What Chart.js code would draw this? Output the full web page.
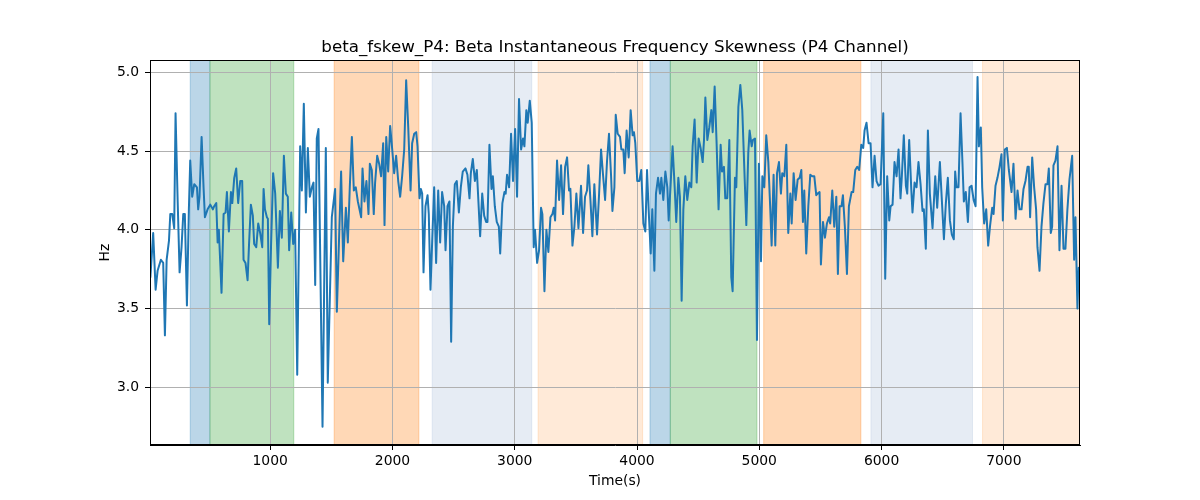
<!DOCTYPE html>
<html><head><meta charset="utf-8">
<script src="https://cdn.jsdelivr.net/npm/chart.js@4"></script>
<style>html,body{margin:0;padding:0;background:#fff}</style>
</head><body>
<canvas id="c" width="1200" height="500" style="width:1200px;height:500px"></canvas>
<script>
const chartTitle = 'beta_fskew_P4: Beta Instantaneous Frequency Skewness (P4 Channel)';
const xLabel = 'Time(s)';
const yLabel = 'Hz';
const xTicks = [1000, 2000, 3000, 4000, 5000, 6000, 7000];
const yTicks = [3.0, 3.5, 4.0, 4.5, 5.0];
const xRange = [17, 7623];
const yRange = [2.634, 5.078];

const times = [
20,43,63,79,106,125,139,153,172,183,199,215,226,243,259,275,289,302,319,335,346,362,379,401,411,422,439,455,466,488,510,531,542,559,570,580,602,619,635,646,662,679,690,706,722,738,755,771,782,798,815,826,842,858,869,886,902,918,935,946,957,973,
981,992,1007,1024,1041,1063,1079,1095,1112,1128,1144,1155,1172,1188,1204,1221,1245,1259,1275,1292,1308,1324,1341,1354,1368,1381,1395,1428,1455,1471,1504,1531,1545,1580,1597,1619,1635,1651,1668,1684,1700,1717,1744,1755,1771,1787,1804,1815,1831,1847,1858,1875,1891,1907,1924,1935,
1949,1965,1981,1998,2014,2030,2047,2063,2079,2096,2112,2129,2148,2161,2178,2194,2205,2221,2232,2243,2254,2270,2287,2297,2311,2325,2341,2357,2374,2390,2406,2423,2434,2450,2466,2480,2494,2510,2526,2543,2559,2575,2597,2613,2630,2641,2657,2674,2690,2701,2717,2734,2750,2766,2777,2793,2810,2821,2837,2853,2870,2881,
2899,2916,2926,2937,2954,2970,2986,3003,3019,3035,3052,3068,3079,3095,3106,3123,3139,3155,3166,3183,3199,3215,3226,3243,3259,3275,3292,3308,3319,3330,3346,3363,3379,3395,3412,3428,3444,3455,3472,3488,3504,3521,3542,3559,3575,3591,3602,3619,3635,3651,3673,3690,3706,3722,3739,3755,3771,3788,3799,3815,3826,3842,
3861,3872,3888,3899,3915,3932,3948,3964,3975,3986,4002,4019,4035,4052,4068,4082,4095,4112,4125,4142,4155,4172,4188,4199,4215,4232,4248,4259,4275,4291,4308,4321,4338,4351,4365,4379,4395,4411,4428,4444,4455,4471,4488,4504,4520,4537,4548,4559,4575,4591,4608,4619,4635,4651,4667,4684,4695,4711,4722,4738,4755,4771,4782,4801,
4812,4829,4845,4861,4878,4894,4910,4921,4938,4948,4965,4981,4997,5014,5025,5041,5057,5074,5090,5101,5117,5131,5145,5161,5177,5188,5205,5221,5237,5254,5265,5281,5297,5314,5330,5344,5357,5368,5384,5401,5417,5433,5450,5466,5477,5493,5504,5521,5537,5553,5570,5580,5597,5613,5630,5643,5657,5673,5684,5700,5717,5733,5755,
5768,5785,5801,5817,5834,5850,5861,5877,5894,5910,5926,5943,5959,5975,5992,6014,6030,6046,6063,6074,6090,6106,6123,6139,6155,6166,6182,6199,6210,6226,6243,6253,6270,6286,6302,6319,6335,6346,6362,6379,6395,6417,6439,6455,6477,6493,6510,6526,6542,6559,6575,6591,6602,6613,6629,6646,6662,6673,6689,6706,
6720,6736,6753,6769,6785,6796,6812,6823,6839,6856,6872,6888,6905,6916,6932,6948,6965,6981,6992,7008,7025,7041,7063,7079,7096,7112,7128,7145,7161,7177,7194,7204,7215,7232,7248,7264,7275,7292,7308,7324,7341,7357,7368,7384,7395,7406,7422,7439,7455,7472,7488,7504,7520,7537,7559,7575,7586,7602,7613,7621
];
const values = [
3.70,3.98,3.62,3.74,3.81,3.79,3.33,3.81,3.93,4.10,4.10,4.01,4.74,4.19,3.73,3.89,4.10,4.10,3.52,4.13,4.44,4.21,4.29,4.27,4.13,4.21,4.59,4.27,4.08,4.13,4.16,4.13,4.15,4.17,3.92,4.00,3.60,4.10,4.11,4.24,3.99,4.24,4.17,4.33,4.39,4.17,4.31,4.31,3.81,3.79,3.68,3.89,4.16,4.09,3.91,3.89,4.04,3.98,3.89,4.26,4.13,4.08,
4.07,3.40,3.90,4.36,4.23,3.76,4.12,3.95,4.47,4.23,4.21,3.87,4.11,3.91,4.00,3.08,4.53,4.25,4.80,4.11,4.52,4.21,4.27,4.30,3.65,4.58,4.64,2.75,4.52,3.03,4.08,4.26,3.48,4.37,3.80,4.14,3.92,4.27,4.59,4.25,4.27,4.18,4.08,4.39,4.18,4.31,4.10,4.42,4.38,4.10,4.30,4.47,4.42,4.34,4.55,4.03,
4.59,4.37,4.66,4.51,4.36,4.47,4.31,4.21,4.34,4.51,4.95,4.65,4.25,4.55,4.61,4.62,4.53,4.20,4.26,4.23,3.73,4.15,4.22,4.10,3.62,3.93,4.27,3.79,4.25,3.92,4.24,4.15,3.87,4.15,4.18,3.29,4.02,4.29,4.31,4.11,4.27,4.37,4.39,4.35,4.20,4.36,4.45,4.31,4.38,4.21,3.96,4.23,4.09,4.05,4.05,4.54,4.26,4.34,4.15,4.05,4.02,3.85,
4.17,4.24,4.23,4.35,4.27,4.61,4.31,4.64,4.21,4.83,4.51,4.58,4.53,4.76,4.68,4.82,4.68,3.89,4.00,3.79,3.87,4.14,4.10,3.61,4.00,3.86,4.08,4.10,4.14,4.06,4.44,4.19,4.41,4.10,4.40,4.46,4.25,4.26,3.90,4.02,4.23,4.01,4.28,3.98,4.21,4.25,4.41,4.19,3.96,4.29,3.97,4.23,4.51,4.35,4.19,4.44,4.61,4.34,4.12,4.27,4.73,4.61,
4.59,4.51,4.51,4.36,4.63,4.46,4.76,4.60,4.62,4.55,4.31,4.31,4.38,4.04,3.99,4.38,4.13,3.85,4.13,3.74,4.23,4.33,4.23,4.33,4.19,4.37,4.27,4.06,4.29,4.53,4.27,4.05,4.33,4.21,3.55,4.13,4.34,4.19,4.30,4.27,4.53,4.70,4.30,4.58,4.52,4.43,4.57,4.84,4.57,4.65,4.76,4.62,4.91,4.55,4.13,4.54,4.37,4.40,4.20,4.20,4.57,3.70,3.61,4.33,
4.27,4.78,4.92,4.76,4.38,4.03,4.49,4.63,4.53,4.57,4.58,3.30,4.42,3.80,4.34,4.27,4.60,4.43,4.13,3.90,4.35,3.90,4.36,4.43,4.23,4.36,4.34,4.54,3.98,4.23,4.04,4.36,4.19,4.32,4.33,4.38,4.05,4.25,3.85,4.15,4.35,4.34,4.34,4.22,4.23,4.24,3.78,4.05,3.95,4.04,4.08,4.04,4.25,4.02,4.21,3.72,4.15,4.15,4.22,4.02,3.72,4.15,4.24,
4.24,4.38,4.40,4.38,4.54,4.52,4.63,4.68,4.55,4.55,4.27,4.47,4.31,4.28,4.29,4.74,3.69,4.34,4.06,4.15,4.16,4.43,4.34,4.51,4.20,4.34,4.60,4.28,4.23,4.57,4.26,4.11,4.30,4.27,4.43,4.29,4.12,4.13,3.88,4.63,4.23,4.01,4.34,4.14,4.43,4.19,3.94,4.17,4.33,4.06,3.97,3.94,4.37,4.27,4.27,4.74,4.42,4.18,4.24,4.05,
4.27,4.28,4.19,4.15,4.97,4.53,4.65,4.27,4.04,4.13,3.90,4.03,4.14,4.10,4.28,4.33,4.40,4.48,4.06,4.51,4.52,4.38,4.24,4.42,4.07,4.25,4.13,4.13,4.26,4.31,4.40,4.40,4.08,4.46,4.27,4.13,3.89,3.74,4.02,4.17,4.29,4.29,4.39,3.98,4.02,4.41,4.44,4.53,3.87,4.28,3.88,3.88,4.13,4.32,4.47,3.81,4.08,3.50,3.76,3.76
];

const bandStarts = [346, 507, 1523, 2325, 3191, 4106, 4272, 5036, 5913, 6826];
const bandEnds   = [507, 1193, 2216, 3139, 4046, 4272, 4981, 5831, 6744, 7623];
const bandColors = [
  'rgba(31,119,180,0.3)', 'rgba(44,160,44,0.3)', 'rgba(255,127,14,0.3)',
  'rgba(176,196,222,0.32)', 'rgba(255,127,14,0.16)',
  'rgba(31,119,180,0.3)', 'rgba(44,160,44,0.3)', 'rgba(255,127,14,0.3)',
  'rgba(176,196,222,0.32)', 'rgba(255,127,14,0.16)'
];

const points = times.map((t, i) => ({ x: t, y: values[i] }));

const bandsPlugin = {
  id: 'bands',
  beforeDraw(chart) {
    const { ctx, chartArea, scales } = chart;
    ctx.save();
    ctx.beginPath();
    ctx.rect(chartArea.left, chartArea.top, chartArea.right - chartArea.left, chartArea.bottom - chartArea.top);
    ctx.clip();
    for (let i = 0; i < bandStarts.length; i++) {
      const x0 = scales.x.getPixelForValue(bandStarts[i]);
      const x1 = scales.x.getPixelForValue(bandEnds[i]);
      ctx.fillStyle = bandColors[i];
      ctx.fillRect(x0, chartArea.top, x1 - x0, chartArea.bottom - chartArea.top);
      ctx.strokeStyle = bandColors[i];
      ctx.lineWidth = 1;
      ctx.beginPath();
      ctx.moveTo(x0, chartArea.top); ctx.lineTo(x0, chartArea.bottom);
      ctx.moveTo(x1, chartArea.top); ctx.lineTo(x1, chartArea.bottom);
      ctx.stroke();
    }
    ctx.restore();
  },
  afterDraw(chart) {
    const { ctx, chartArea } = chart;
    ctx.save();
    ctx.strokeStyle = '#000';
    ctx.lineWidth = 1;
    const l = Math.round(chartArea.left) + 0.5, r = Math.round(chartArea.right) - 0.5;
    const t = Math.round(chartArea.top) + 0.5, b = Math.round(chartArea.bottom) - 0.5;
    ctx.strokeRect(l, t, r - l, b - t);
    ctx.restore();
  }
};

const FONT = 'DejaVu Sans';
Chart.defaults.font.family = FONT;
Chart.defaults.color = '#000';

new Chart(document.getElementById('c'), {
  type: 'line',
  data: {
    datasets: [{
      data: points,
      borderColor: '#1f77b4',
      borderWidth: 2,
      pointRadius: 0,
      tension: 0,
      fill: false,
      borderJoinStyle: 'round',
      borderCapStyle: 'round'
    }]
  },
  options: {
    responsive: false,
    animation: false,
    devicePixelRatio: 1,
    layout: { padding: { left: 30, right: 0, top: 0, bottom: 0 } },
    plugins: {
      legend: { display: false },
      tooltip: { enabled: false },
      title: {
        display: true,
        text: chartTitle,
        color: '#000',
        font: { family: FONT, size: 16.7, weight: 'normal' },
        padding: { top: 37.5, bottom: 2.5 }
      }
    },
    scales: {
      x: {
        type: 'linear',
        min: xRange[0], max: xRange[1],
        afterBuildTicks(scale) { scale.ticks = xTicks.map(v => ({ value: v })); },
        afterFit(scale) { scale.height = 55; },
        ticks: { font: { family: FONT, size: 13.9 }, color: '#000', padding: 3, maxRotation: 0, autoSkip: false,
                 callback: v => String(v) },
        grid: { color: '#b0b0b0', lineWidth: 1, tickColor: '#000', tickLength: 5, drawTicks: true },
        border: { display: true, color: '#000', width: 1 },
        title: { display: true, text: xLabel, color: '#000', font: { family: FONT, size: 13.9 }, padding: { top: 0, bottom: 10.6 } }
      },
      y: {
        type: 'linear',
        min: yRange[0], max: yRange[1],
        afterBuildTicks(scale) { scale.ticks = yTicks.map(v => ({ value: v })); },
        afterFit(scale) { scale.width = 120; },
        ticks: { font: { family: FONT, size: 13.9 }, color: '#000', padding: 6, callback: v => Number(v).toFixed(1) },
        grid: { color: '#b0b0b0', lineWidth: 1, tickColor: '#000', tickLength: 5, drawTicks: true },
        border: { display: true, color: '#000', width: 1 },
        title: { display: true, text: yLabel, color: '#000', font: { family: FONT, size: 13.9 }, padding: { top: 67, bottom: 0 } }
      },
      y2: {
        type: 'linear',
        position: 'right',
        display: true,
        afterFit(scale) { scale.width = 120; },
        ticks: { display: false },
        grid: { display: false, drawTicks: false },
        border: { display: false }
      }
    }
  },
  plugins: [bandsPlugin]
});
</script>
</body></html>
